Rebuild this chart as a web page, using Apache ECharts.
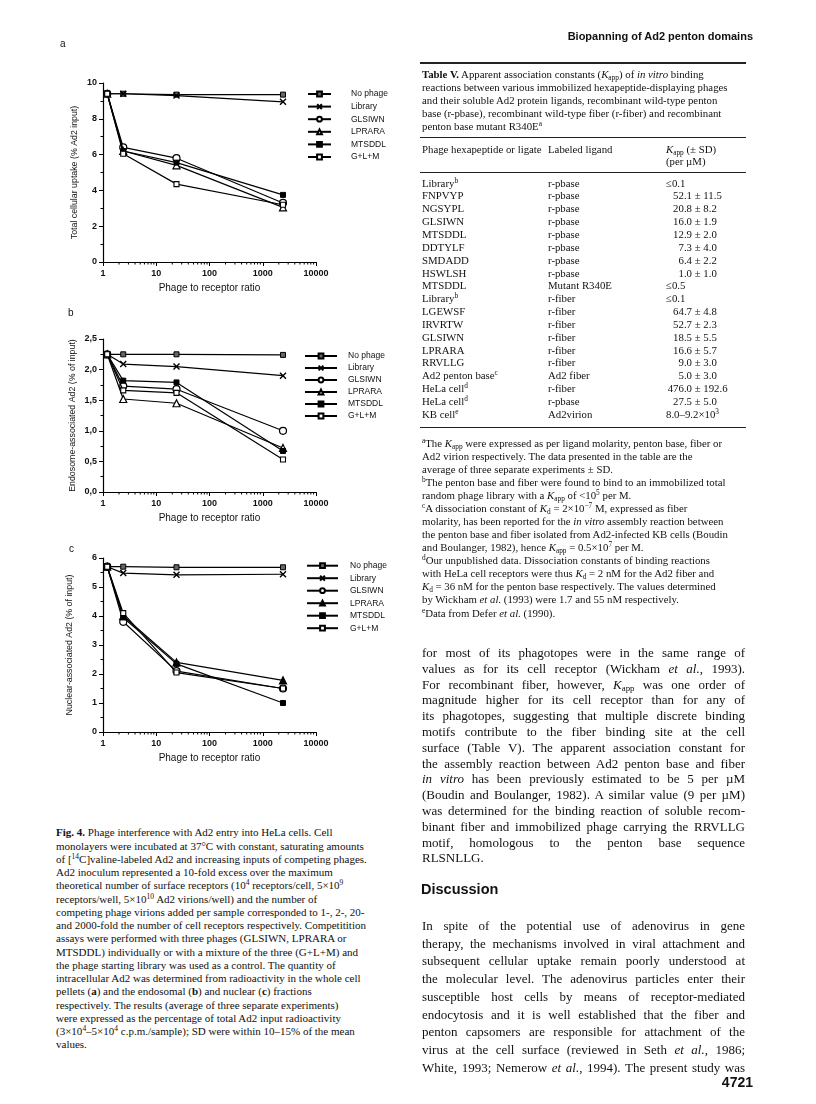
<!DOCTYPE html>
<html><head><meta charset="utf-8">
<script src="https://cdn.jsdelivr.net/npm/echarts@6/dist/echarts.min.js"></script>
<style>
body{margin:0;background:#fff;}
#page{position:relative;width:816px;height:1104px;overflow:hidden;background:#fff;}
#chart{position:absolute;left:0;top:0;width:816px;height:800px;}
.t{position:absolute;font-family:"Liberation Serif","Times New Roman",serif;color:#111;white-space:nowrap;}
.t div{white-space:nowrap;}
.j div{text-align:justify;text-align-last:justify;}
.j div.l{text-align-last:left;}
.s{position:absolute;font-family:"Liberation Sans",Arial,sans-serif;color:#111;white-space:nowrap;}
sup{font-size:0.68em;line-height:0;vertical-align:0.5em}
sub{font-size:0.68em;line-height:0;vertical-align:-0.25em}
.rule{position:absolute;left:420px;width:326px;background:#222;}
.row{position:relative;height:12.85px;line-height:12.85px;}
.row span{position:absolute;top:0;}
.c1{left:0}.c2{left:126px}.c3{left:244px}
.num{display:inline-block;width:26px;text-align:right;position:static!important;}
</style>
</head><body>
<div id="page">
<div id="chart"></div>

<div class="s" style="left:60px;top:38px;font-size:10px;">a</div>
<div class="s" style="left:68px;top:307px;font-size:10px;">b</div>
<div class="s" style="left:69px;top:543px;font-size:10px;">c</div>

<div class="s" style="right:63px;top:30px;font-size:11px;font-weight:bold;">Biopanning of Ad2 penton domains</div>
<div class="rule" style="top:62px;height:1.6px;"></div>

<div class="t" style="left:422px;top:67.5px;font-size:10.8px;line-height:13px;">
<div><b>Table V.</b> Apparent association constants (<i>K</i><sub>app</sub>) of <i>in vitro</i> binding</div>
<div>reactions between various immobilized hexapeptide-displaying phages</div>
<div>and their soluble Ad2 protein ligands, recombinant wild-type penton</div>
<div>base (r-pbase), recombinant wild-type fiber (r-fiber) and recombinant</div>
<div>penton base mutant R340E<sup>a</sup></div>
</div>
<div class="rule" style="top:137px;height:1.2px;"></div>
<div class="t" style="left:422px;top:142.5px;font-size:10.8px;line-height:12.5px;width:330px;">
<div class="row"><span class="c1">Phage hexapeptide or ligate</span><span class="c2">Labeled ligand</span><span class="c3"><i>K</i><sub>app</sub> (± SD)</span></div>
<div class="row"><span class="c3">(per µM)</span></div>
</div>
<div class="rule" style="top:171.5px;height:1.8px;"></div>

<div class="t" style="left:422px;top:176.6px;font-size:10.8px;width:330px;">
<div class="row"><span class="c1">Library<sup>b</sup></span><span class="c2">r-pbase</span><span class="c3">≤0.1</span></div>
<div class="row"><span class="c1">FNPVYP</span><span class="c2">r-pbase</span><span class="c3"><span class="num">52.1</span> ± 11.5</span></div>
<div class="row"><span class="c1">NGSYPL</span><span class="c2">r-pbase</span><span class="c3"><span class="num">20.8</span> ± 8.2</span></div>
<div class="row"><span class="c1">GLSIWN</span><span class="c2">r-pbase</span><span class="c3"><span class="num">16.0</span> ± 1.9</span></div>
<div class="row"><span class="c1">MTSDDL</span><span class="c2">r-pbase</span><span class="c3"><span class="num">12.9</span> ± 2.0</span></div>
<div class="row"><span class="c1">DDTYLF</span><span class="c2">r-pbase</span><span class="c3"><span class="num">7.3</span> ± 4.0</span></div>
<div class="row"><span class="c1">SMDADD</span><span class="c2">r-pbase</span><span class="c3"><span class="num">6.4</span> ± 2.2</span></div>
<div class="row"><span class="c1">HSWLSH</span><span class="c2">r-pbase</span><span class="c3"><span class="num">1.0</span> ± 1.0</span></div>
<div class="row"><span class="c1">MTSDDL</span><span class="c2">Mutant R340E</span><span class="c3">≤0.5</span></div>
<div class="row"><span class="c1">Library<sup>b</sup></span><span class="c2">r-fiber</span><span class="c3">≤0.1</span></div>
<div class="row"><span class="c1">LGEWSF</span><span class="c2">r-fiber</span><span class="c3"><span class="num">64.7</span> ± 4.8</span></div>
<div class="row"><span class="c1">IRVRTW</span><span class="c2">r-fiber</span><span class="c3"><span class="num">52.7</span> ± 2.3</span></div>
<div class="row"><span class="c1">GLSIWN</span><span class="c2">r-fiber</span><span class="c3"><span class="num">18.5</span> ± 5.5</span></div>
<div class="row"><span class="c1">LPRARA</span><span class="c2">r-fiber</span><span class="c3"><span class="num">16.6</span> ± 5.7</span></div>
<div class="row"><span class="c1">RRVLLG</span><span class="c2">r-fiber</span><span class="c3"><span class="num">9.0</span> ± 3.0</span></div>
<div class="row"><span class="c1">Ad2 penton base<sup>c</sup></span><span class="c2">Ad2 fiber</span><span class="c3"><span class="num">5.0</span> ± 3.0</span></div>
<div class="row"><span class="c1">HeLa cell<sup>d</sup></span><span class="c2">r-fiber</span><span class="c3"><span class="num">476.0</span> ± 192.6</span></div>
<div class="row"><span class="c1">HeLa cell<sup>d</sup></span><span class="c2">r-pbase</span><span class="c3"><span class="num">27.5</span> ± 5.0</span></div>
<div class="row"><span class="c1">KB cell<sup>e</sup></span><span class="c2">Ad2virion</span><span class="c3">8.0–9.2×10<sup>3</sup></span></div>
</div>
<div class="rule" style="top:427px;height:1.4px;"></div>

<div class="t" style="left:422px;top:436.5px;font-size:10.8px;line-height:13.08px;">
<div><sup>a</sup>The <i>K</i><sub>app</sub> were expressed as per ligand molarity, penton base, fiber or</div>
<div>Ad2 virion respectively. The data presented in the table are the</div>
<div>average of three separate experiments ± SD.</div>
<div><sup>b</sup>The penton base and fiber were found to bind to an immobilized total</div>
<div>random phage library with a <i>K</i><sub>app</sub> of &lt;10<sup>5</sup> per M.</div>
<div><sup>c</sup>A dissociation constant of <i>K</i><sub>d</sub> = 2×10<sup>−7</sup> M, expressed as fiber</div>
<div>molarity, has been reported for the <i>in vitro</i> assembly reaction between</div>
<div>the penton base and fiber isolated from Ad2-infected KB cells (Boudin</div>
<div>and Boulanger, 1982), hence <i>K</i><sub>app</sub> = 0.5×10<sup>7</sup> per M.</div>
<div><sup>d</sup>Our unpublished data. Dissociation constants of binding reactions</div>
<div>with HeLa cell receptors were thus <i>K</i><sub>d</sub> = 2 nM for the Ad2 fiber and</div>
<div><i>K</i><sub>d</sub> = 36 nM for the penton base respectively. The values determined</div>
<div>by Wickham <i>et al.</i> (1993) were 1.7 and 55 nM respectively.</div>
<div><sup>e</sup>Data from Defer <i>et al.</i> (1990).</div>
</div>

<div class="t j" style="left:422px;top:645px;font-size:13px;line-height:15.8px;width:323px;">
<div>for most of its phagotopes were in the same range of</div>
<div>values as for its cell receptor (Wickham <i>et al.</i>, 1993).</div>
<div>For recombinant fiber, however, <i>K</i><sub>app</sub> was one order of</div>
<div>magnitude higher for its cell receptor than for any of</div>
<div>its phagotopes, suggesting that multiple discrete binding</div>
<div>motifs contribute to the fiber binding site at the cell</div>
<div>surface (Table V). The apparent association constant for</div>
<div>the assembly reaction between Ad2 penton base and fiber</div>
<div><i>in vitro</i> has been previously estimated to be 5 per µM</div>
<div>(Boudin and Boulanger, 1982). A similar value (9 per µM)</div>
<div>was determined for the binding reaction of soluble recom-</div>
<div>binant fiber and immobilized phage carrying the RRVLLG</div>
<div>motif, homologous to the penton base sequence</div>
<div class="l">RLSNLLG.</div>
</div>

<div class="s" style="left:421px;top:881px;font-size:14.5px;font-weight:bold;">Discussion</div>

<div class="t j" style="left:422px;top:917px;font-size:13px;line-height:17.7px;width:323px;">
<div>In spite of the potential use of adenovirus in gene</div>
<div>therapy, the mechanisms involved in viral attachment and</div>
<div>subsequent cellular uptake remain poorly understood at</div>
<div>the molecular level. The adenovirus particles enter their</div>
<div>susceptible host cells by means of receptor-mediated</div>
<div>endocytosis and it is well established that the fiber and</div>
<div>penton capsomers are responsible for attachment of the</div>
<div>virus at the cell surface (reviewed in Seth <i>et al.</i>, 1986;</div>
<div>White, 1993; Nemerow <i>et al.</i>, 1994). The present study was</div>
</div>

<div class="s" style="right:63px;top:1074px;font-size:14px;font-weight:bold;">4721</div>

<div class="t" style="left:56px;top:826.4px;font-size:11px;line-height:13.25px;">
<div><b>Fig. 4.</b> Phage interference with Ad2 entry into HeLa cells. Cell</div>
<div>monolayers were incubated at 37°C with constant, saturating amounts</div>
<div>of [<sup>14</sup>C]valine-labeled Ad2 and increasing inputs of competing phages.</div>
<div>Ad2 inoculum represented a 10-fold excess over the maximum</div>
<div>theoretical number of surface receptors (10<sup>4</sup> receptors/cell, 5×10<sup>9</sup></div>
<div>receptors/well, 5×10<sup>10</sup> Ad2 virions/well) and the number of</div>
<div>competing phage virions added per sample corresponded to 1-, 2-, 20-</div>
<div>and 2000-fold the number of cell receptors respectively. Competitition</div>
<div>assays were performed with three phages (GLSIWN, LPRARA or</div>
<div>MTSDDL) individually or with a mixture of the three (G+L+M) and</div>
<div>the phage starting library was used as a control. The quantity of</div>
<div>intracellular Ad2 was determined from radioactivity in the whole cell</div>
<div>pellets (<b>a</b>) and the endosomal (<b>b</b>) and nuclear (<b>c</b>) fractions</div>
<div>respectively. The results (average of three separate experiments)</div>
<div>were expressed as the percentage of total Ad2 input radioactivity</div>
<div>(3×10<sup>4</sup>–5×10<sup>4</sup> c.p.m./sample); SD were within 10–15% of the mean</div>
<div>values.</div>
</div>
</div>

<script>
// ---- data ----
const phageRatio = [1.2, 2.4, 24, 2400];
const seriesNames = ['No phage', 'Library', 'GLSIWN', 'LPRARA', 'MTSDDL', 'G+L+M'];
const xTickLabels = ['1', '10', '100', '1000', '10000'];
const xMinorTicks = [2,3,4,5,6,7,8,9,20,30,40,50,60,70,80,90,200,300,400,500,600,700,800,900,2000,3000,4000,5000,6000,7000,8000,9000];

// (a) Total cellular uptake (% Ad2 input)
const aNoPhage = [9.4, 9.4, 9.35, 9.35];
const aLibrary = [9.4, 9.4, 9.3, 8.95];
const aGLSIWN  = [9.4, 6.4, 5.8, 3.3];
const aLPRARA  = [9.4, 6.2, 5.4, 3.05];
const aMTSDDL  = [9.4, 6.2, 5.55, 3.75];
const aGLM     = [9.4, 6.05, 4.35, 3.2];

// (b) Endosome-associated Ad2 (% of input)
const bNoPhage = [2.25, 2.25, 2.25, 2.24];
const bLibrary = [2.25, 2.09, 2.05, 1.9];
const bGLSIWN  = [2.25, 1.73, 1.68, 1.0];
const bLPRARA  = [2.25, 1.52, 1.45, 0.72];
const bMTSDDL  = [2.25, 1.82, 1.79, 0.67];
const bGLM     = [2.25, 1.66, 1.62, 0.53];

// (c) Nuclear-associated Ad2 (% of input)
const cNoPhage = [5.7, 5.7, 5.68, 5.68];
const cLibrary = [5.7, 5.48, 5.42, 5.44];
const cGLSIWN  = [5.7, 3.8, 2.1, 1.5];
const cLPRARA  = [5.7, 4.0, 2.4, 1.78];
const cMTSDDL  = [5.7, 3.95, 2.35, 1.0];
const cGLM     = [5.7, 4.1, 2.05, 1.5];

const panels = [
  {values: [aNoPhage, aLibrary, aGLSIWN, aLPRARA, aMTSDDL, aGLM], yName: 'Total cellular uptake (% Ad2 input)',
   grid: {left: 103, top: 83, width: 213, height: 179}, yMax: 10, yInt: 2, nameGap: 24, filledTri: false,
   legend: {left: 307, top: 89, itemWidth: 23, gap: 2.6, pad: 15}},
  {values: [bNoPhage, bLibrary, bGLSIWN, bLPRARA, bMTSDDL, bGLM], yName: 'Endosome-associated Ad2 (% of input)',
   grid: {left: 103, top: 339, width: 213, height: 153}, yMax: 2.5, yInt: 0.5, nameGap: 26, filledTri: false,
   legend: {left: 304, top: 351, itemWidth: 32, gap: 2, pad: 6}},
  {values: [cNoPhage, cLibrary, cGLSIWN, cLPRARA, cMTSDDL, cGLM], yName: 'Nuclear-associated Ad2 (% of input)',
   grid: {left: 103, top: 558, width: 213, height: 174}, yMax: 6, yInt: 1, nameGap: 29, filledTri: true,
   legend: {left: 306, top: 560.7, itemWidth: 31, gap: 2.5, pad: 7}}
];

const crossPath = 'path://M0,0 L10,10 M10,0 L0,10';
function markerStyle(idx, filledTri) {
  switch (idx) {
    case 0: return {symbol: 'rect', symbolSize: 5, itemStyle: {color: '#666', borderColor: '#000', borderWidth: 1}};
    case 1: return {symbol: crossPath, symbolSize: 6, itemStyle: {color: 'rgba(0,0,0,0)', borderColor: '#000', borderWidth: 1.4}};
    case 2: return {symbol: 'circle', symbolSize: 7, itemStyle: {color: '#fff', borderColor: '#000', borderWidth: 1.2}};
    case 3: return {symbol: 'triangle', symbolSize: 7, itemStyle: {color: filledTri ? '#000' : '#fff', borderColor: '#000', borderWidth: 1.2}};
    case 4: return {symbol: 'rect', symbolSize: 5, itemStyle: {color: '#000', borderColor: '#000', borderWidth: 1}};
    default: return {symbol: 'rect', symbolSize: 5, itemStyle: {color: '#fff', borderColor: '#000', borderWidth: 1.1}};
  }
}

const FONT = '"Liberation Sans", Arial, sans-serif';
const grids = [], xAxes = [], yAxes = [], series = [], legends = [];
const ZW = '\u200b';

panels.forEach((p, pi) => {
  const suffix = ZW.repeat(pi); // keeps each panel's legend bound to its own series
  grids.push(Object.assign({containLabel: false}, p.grid));
  xAxes.push({
    type: 'log', logBase: 10, gridIndex: pi, min: 1, max: 10000,
    name: 'Phage to receptor ratio', nameLocation: 'middle', nameGap: 21,
    nameTextStyle: {fontFamily: FONT, fontSize: 10, color: '#111'},
    axisLine: {lineStyle: {color: '#000', width: 1.2}},
    axisTick: {show: true, length: 4, lineStyle: {color: '#000', width: 1}},
    axisLabel: {fontFamily: FONT, fontSize: 9, fontWeight: 'bold', color: '#111', margin: 7,
      formatter: v => xTickLabels[Math.round(Math.log10(v))]},
    splitLine: {show: false}
  });
  yAxes.push({
    type: 'value', gridIndex: pi, min: 0, max: p.yMax, interval: p.yInt,
    name: p.yName, nameLocation: 'middle', nameGap: p.nameGap, nameRotate: 90,
    nameTextStyle: {fontFamily: FONT, fontSize: 8.8, color: '#111'},
    axisLine: {show: true, lineStyle: {color: '#000', width: 1.2}},
    axisTick: {show: true, length: 4, lineStyle: {color: '#000', width: 1}},
    minorTick: {show: true, splitNumber: 2, length: 2.5, lineStyle: {color: '#000', width: 1}},
    axisLabel: {fontFamily: FONT, fontSize: 9, fontWeight: 'bold', color: '#111', margin: 6,
      formatter: v => p.yInt < 1 ? v.toFixed(1).replace('.', ',') : String(v)},
    splitLine: {show: false}
  });
  p.values.forEach((vals, si) => {
    const m = markerStyle(si, p.filledTri);
    series.push(Object.assign({
      type: 'line', name: seriesNames[si] + suffix, xAxisIndex: pi, yAxisIndex: pi,
      data: phageRatio.map((x, k) => [x, vals[k]]),
      showSymbol: true, animation: false, z: 3 + si * 0.1,
      lineStyle: {color: '#000', width: 1.2}, emphasis: {disabled: true}
    }, m));
  });
  series.push({
    type: 'custom', xAxisIndex: pi, yAxisIndex: pi, silent: true, animation: false, clip: false,
    data: xMinorTicks.map(v => [v, 0]),
    renderItem: (params, api) => {
      const pt = api.coord([api.value(0), api.value(1)]);
      return {type: 'line', shape: {x1: pt[0], y1: pt[1], x2: pt[0], y2: pt[1] + 2.5},
        style: {stroke: '#000', lineWidth: 1}};
    }
  });
  legends.push({
    orient: 'vertical', left: p.legend.left, top: p.legend.top, padding: 0,
    itemWidth: p.legend.itemWidth, itemHeight: 6,
    itemGap: p.legend.gap, selectedMode: false,
    textStyle: {fontFamily: FONT, fontSize: 8.5, color: '#111', lineHeight: 10, padding: [0, 0, 0, p.legend.pad]},
    formatter: n => n.replace(/\u200b/g, ''),
    data: seriesNames.map(n => n + suffix)
  });
});

const chart = echarts.init(document.getElementById('chart'), null, {renderer: 'canvas'});
chart.setOption({
  animation: false, backgroundColor: 'transparent',
  grid: grids, xAxis: xAxes, yAxis: yAxes, series: series, legend: legends
});
</script>
</body></html>
